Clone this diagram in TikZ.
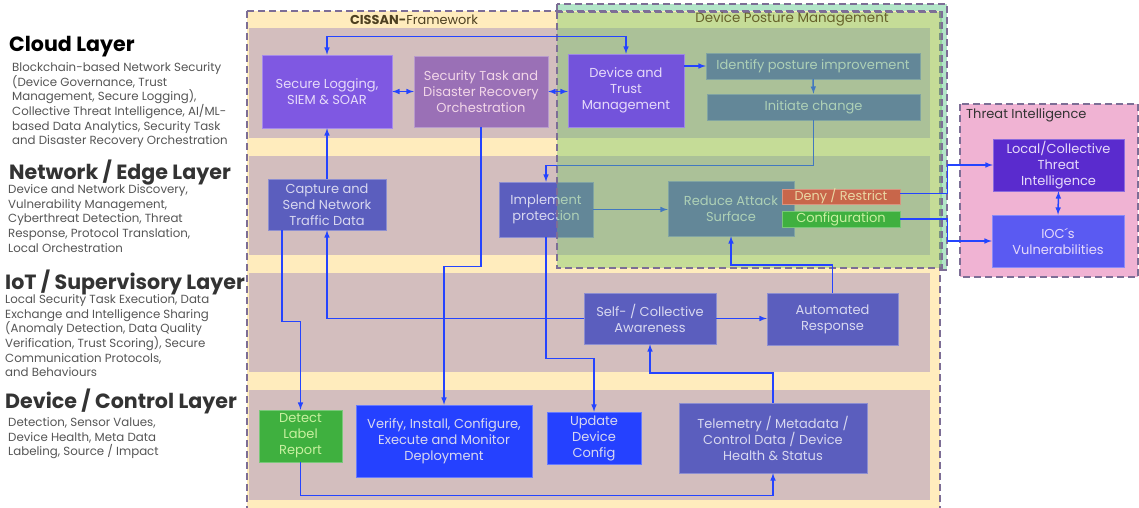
\documentclass[tikz,border=0pt]{standalone}
\usepackage{fontspec}
\setmainfont{Poppins}
\usepackage{tikz}

\definecolor{fwyellow}{HTML}{FFECBD}
\definecolor{band}{HTML}{D3BEBE}
\definecolor{mint}{HTML}{B2E5C8}
\definecolor{dpmgreen}{RGB}{112,198,96}
\definecolor{tipink}{HTML}{F0B3D3}
\definecolor{dashgray}{HTML}{7D6E96}
\definecolor{lnblue}{HTML}{2444FF}
\definecolor{slate}{HTML}{5B5EBE}
\definecolor{purpA}{HTML}{7F58E2}
\definecolor{purpB}{HTML}{9A70B6}
\definecolor{purpC}{HTML}{7353DB}
\definecolor{purpD}{HTML}{5A2BCE}
\definecolor{iocblue}{HTML}{5A5AF2}
\definecolor{brblue}{HTML}{2541FF}
\definecolor{grn}{HTML}{3FB03F}
\definecolor{denyred}{HTML}{C8664A}
\definecolor{txtA}{HTML}{E6DAFA}
\definecolor{txtB}{HTML}{F2D6E8}
\definecolor{txtS}{HTML}{D8D8F0}
\definecolor{txtG}{HTML}{C8F0A0}
\definecolor{txtY}{HTML}{EAD8A4}
\definecolor{headgray}{HTML}{333333}
\definecolor{descgray}{HTML}{555555}
\definecolor{olive}{HTML}{4D4020}
\definecolor{dpmtext}{HTML}{66622A}

\newcommand{\boxfont}{\fontsize{13}{16}\selectfont}
\newcommand{\headfont}{\fontsize{20.6}{24}\selectfont\bfseries}
\newcommand{\descfont}{\fontsize{11.8}{14.6}\selectfont}

\tikzset{
  blk/.style={fill=#1, draw=#1!70!white, line width=0.5pt, inner sep=0pt,
    align=center, font=\boxfont},
  lyrhead/.style={anchor=west, inner sep=0pt, font=\headfont, text=headgray},
  lyrtext/.style={anchor=north west, inner sep=0pt, align=left, font=\descfont,
    text=descgray},
  fwdash/.style={draw=dashgray, line width=1.4pt, dash pattern=on 7pt off 4pt},
  link/.style={draw=lnblue, line width=1.5pt, -latex},
  dlink/.style={draw=lnblue, line width=1.5pt, latex-latex},
}

\begin{document}
\begin{tikzpicture}[x=1pt, y=-1pt]
    \useasboundingbox (0,0) rectangle (1139,508);

    % frames and layer bands
    \path[fill=mint, fwdash] (557,4) rectangle (947,270);
    \path[fill=fwyellow, fwdash] (247,11) rectangle (940,515);
    \fill[band] (249,28)  rectangle (930,138);
    \fill[band] (249,156) rectangle (930,255);
    \fill[band] (249,273) rectangle (930,372);
    \fill[band] (249,390) rectangle (930,500);
    \node[font=\fontsize{12.9}{15}\selectfont, text=olive] (fwtitle) at (414,20)
        {\textbf{CISSAN-}Framework};

    \path[fill=tipink, fwdash] (960,104) rectangle (1138,277);
    \node[anchor=west, inner sep=0pt, font=\fontsize{13}{15}\selectfont,
        text=headgray] (titl) at (966,115) {Threat Intelligence};

    % layer descriptions
    \node[lyrhead, text=black] (hcloud) at (9,46.5) {Cloud Layer};
    \node[lyrtext] (dcloud) at (12,62.5) {Blockchain-based Network Security\\
        (Device Governance, Trust\\ Management, Secure Logging),\\
        Collective Threat Intelligence, AI/ML-\\ based Data Analytics, Security Task\\
        and Disaster Recovery Orchestration};
    \node[lyrhead] (hedge) at (9,172.5) {Network / Edge Layer};
    \node[lyrtext] (dedge) at (8,184.5) {Device and Network Discovery,\\
        Vulnerability Management,\\ Cyberthreat Detection, Threat\\
        Response, Protocol Translation,\\ Local Orchestration};
    \node[lyrhead] (hiot) at (5,282.5) {IoT / Supervisory Layer};
    \node[lyrtext] (diot) at (5,294.5) {Local Security Task Execution, Data\\
        Exchange and Intelligence Sharing\\ (Anomaly Detection, Data Quality\\
        Verification, Trust Scoring), Secure\\ Communication Protocols,\\
        and Behaviours};
    \node[lyrhead] (hdev) at (5,401.5) {Device / Control Layer};
    \node[lyrtext] (ddev) at (8,417.5) {Detection, Sensor Values,\\
        Device Health, Meta Data\\ Labeling, Source / Impact};

    % boxes under the posture overlay
    \node[blk=slate, text=txtS, minimum width=214pt, minimum height=26pt]
        (ident) at (813,66) {Identify posture improvement};
    \node[blk=slate, text=txtS, minimum width=213pt, minimum height=26pt]
        (init) at (813.5,107) {Initiate change};
    \node[blk=slate, text=txtS, minimum width=94pt, minimum height=55pt]
        (impl) at (546,209.5) {Implement\\ protection};
    \node[blk=slate, text=txtS, minimum width=126pt, minimum height=55pt]
        (reduce) at (731,208.5) {Reduce Attack\\ Surface};
    \draw[link] (ident.south) -- (init.north);
    \draw[link] (init.south) -- ++(0,45) -| (impl.north);
    \draw[link] (impl.east) -- (impl.east -| reduce.west);

    \path[fill=dpmgreen, fill opacity=0.4, fwdash] (557,12) rectangle (942,268);
    \node[font=\fontsize{13.4}{15}\selectfont, text=dpmtext] (dpmtitle) at (792,19.5)
        {Device Posture Management};

    % boxes
    \node[blk=purpA, text=txtA, minimum width=130pt, minimum height=73pt]
        (logg) at (327,91.5) {Secure Logging,\\ SIEM \& SOAR};
    \node[blk=purpB, text=txtB, minimum width=134pt, minimum height=71pt]
        (task) at (481,91.5) {Security Task and\\ Disaster Recovery\\ Orchestration};
    \node[blk=purpC, text=txtA, minimum width=116pt, minimum height=73pt]
        (trust) at (626,90.5) {Device and\\ Trust\\ Management};
    \node[blk=slate, text=txtS, minimum width=118pt, minimum height=51pt]
        (capt) at (327,204.5) {Capture and\\ Send Network\\ Traffic Data};
    \node[blk=denyred, text=txtY, minimum width=118pt, minimum height=15pt,
        font=\fontsize{12.8}{13}\selectfont] (deny) at (841,196.5) {Deny / Restrict};
    \node[blk=grn, text=txtG, minimum width=118pt, minimum height=16pt,
        font=\fontsize{13}{13}\selectfont] (conf) at (841,219) {Configuration};
    \node[blk=slate, text=txtS, minimum width=132pt, minimum height=51pt]
        (aware) at (650,318.5) {Self- / Collective\\ Awareness};
    \node[blk=slate, text=txtS, minimum width=131pt, minimum height=52pt]
        (autom) at (832.5,319) {Automated\\ Response};
    \node[blk=grn, text=txtG, minimum width=83pt, minimum height=52pt]
        (detect) at (300.5,436) {Detect\\ Label\\ Report};
    \node[blk=brblue, text=txtS, minimum width=176pt, minimum height=72pt]
        (verify) at (444,441) {Verify, Install, Configure,\\ Execute and Monitor\\ Deployment};
    \node[blk=brblue, text=txtS, minimum width=94pt, minimum height=52pt]
        (update) at (594,438) {Update\\ Device\\ Config};
    \node[blk=slate, text=txtS, minimum width=188pt, minimum height=70pt]
        (telem) at (773,438) {Telemetry / Metadata /\\ Control Data / Device\\ Health \& Status};
    \node[blk=purpD, text=txtA, minimum width=131pt, minimum height=52pt]
        (ltic) at (1058.5,165) {Local/Collective\\ Threat\\ Intelligence};
    \node[blk=iocblue, text=txtA, minimum width=132pt, minimum height=52pt]
        (ioc) at (1058,241) {IOC´s\\ Vulnerabilities};

    % connectors
    \draw[dlink] (trust.north) -- ++(0,-17) -| (logg.north);
    \draw[dlink] (logg.east) -- (task.west);
    \draw[dlink] (task.east) -- (task.east -| trust.west);
    \draw[link]  (trust.east |- ident.west) -- (ident.west);
    \draw[link]  (capt.north) -- (logg.south);
    \draw[link]  (impl.south) -- ++(0,121) -| (update.north);
    \draw[link]  (task.south) -- ++(0,139) -| (verify.north);
    \draw[link]  ([xshift=14pt]capt.south west) -- ++(0,91) -| (detect.north);
    \draw[link]  (aware.west) -| (capt.south);
    \draw[link]  (aware.east) -- (aware.east -| autom.west);
    \draw[link]  (autom.north) -- ++(0,-28) -| (reduce.south);
    \draw[link]  (telem.north) -- ++(0,-30) -| (aware.south);
    \draw[link]  (detect.south) -- ++(0,33) -| (telem.south);
    \draw[link]  ([yshift=3pt]deny.east) -- ++(47,0) |- (ltic.west);
    \draw[link]  (conf.east) -- ++(47,0) |- (ioc.west);
    \draw[dlink] (ltic.south) -- (ioc.north);
\end{tikzpicture}
\end{document}
